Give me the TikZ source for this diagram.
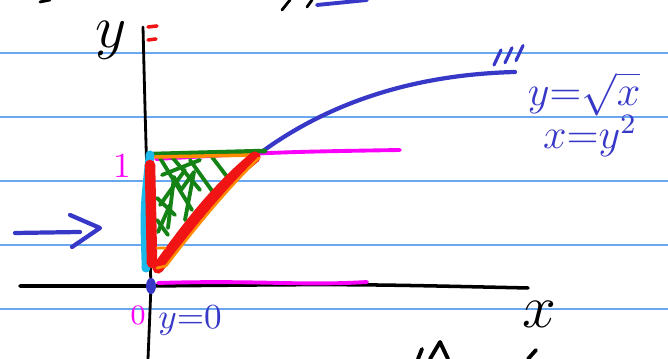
\documentclass[tikz,border=0pt]{standalone}
\usepackage{amsmath,amssymb}
\usepackage{xcolor}
\usepackage{tikz}
\usetikzlibrary{positioning}

\definecolor{ruleblue}{RGB}{105,168,240}
\definecolor{penblue}{RGB}{55,55,200}
\definecolor{penred}{RGB}{240,20,20}
\definecolor{pengreen}{RGB}{20,130,20}
\definecolor{penorange}{RGB}{255,140,0}
\definecolor{pencyan}{RGB}{30,185,235}
\definecolor{penmag}{RGB}{250,0,250}

\begin{document}
\begin{tikzpicture}[x=0.01cm,y=-0.01cm,line cap=round,line join=round,
    ink/.style={line width=0.8pt},
    marker/.style={line width=2.4pt},
    hatch/.style={pengreen,line width=1.1pt},
    hand/.style={inner sep=0pt}]
        \useasboundingbox[fill=white] (0,0) rectangle (668,359);
        % ruled paper
        \foreach \y in {53,117,181,245,309}{\draw[ruleblue,line width=0.45pt] (0,\y) -- (668,\y);}
        % fragments cut off at the edges
        \draw[ink] (40,2) -- (50,0);
        \draw[ink] (282,10) -- (290,0);
        \draw[ink] (307,7) -- (312,0);
        \draw[penblue,line width=1.1pt] (317,5) -- (367,0);
        \draw[ink,line width=1.1pt] (418,359) -- (422,349) (430,359) -- (440,342) -- (448,359);
        \draw[ink,line width=1.1pt] (528,359) -- (536,350);
        % axes
        \coordinate (O) at (151,286);
        \draw[ink] (143,27) .. controls (146,150) .. (O) -- (148,359);
        \draw[ink,line width=1pt] (20,286) -- (O) .. controls (350,284) .. (528,288);
        \draw[penred,line width=1pt] (148,27) -- (157,26) (148,40) -- (156,39);
        \node[hand,font=\LARGE] (ylab) at (111,40) {$y$};
        \node[hand,font=\LARGE] (xlab) at (539,314) {$x$};
        % magenta lines y=1 and y=0
        \draw[penmag,line width=1.1pt] (156,159) .. controls (280,152) .. (400,150);
        \draw[penmag,line width=1.1pt] (158,283) .. controls (260,280) and (300,286) .. (367,282);
        \node[hand,penmag] (one) at (122,166) {1};
        \node[hand,penmag,font=\footnotesize] (zero) at (138,315) {0};
        \node[hand,penblue] (yzero) at (190,321) {$y{=}0$};
        % sqrt curve
        \coordinate (A) at (263,151);
        \coordinate (B) at (515,72);
        \draw[penblue,line width=1.2pt] (A) .. controls (320,110) and (400,75) .. (B);
        \foreach \t in {0,11,22}{\draw[penblue,line width=0.9pt] (494+\t,65-\t/5) -- (501+\t,50-\t/5);}
        \node[hand,penblue,font=\large] (eq1) at (584,94) {$y{=}\sqrt{x}$};
        \node[hand,penblue,font=\large] (eq2) at (590,136) {$x{=}y^2$};
        % region
        \draw[hatch] (160,158) -- (192,210) (172,157) -- (200,190) (190,160) -- (215,195) (212,157) -- (228,178);
        \draw[hatch] (162,175) -- (200,160) (160,205) -- (185,170) (158,232) -- (170,205);
        \draw[hatch] (168,228) -- (174,177) -- (181,190) -- (194,172) -- (185,220);
        \draw[hatch] (157,198) -- (175,215) (157,220) -- (168,235);
        \draw[pengreen,line width=1.3pt] (154,154) -- (265,151);
        \draw[penorange,line width=1pt] (155,157) -- (256,155);
        \draw[pencyan,marker] (150,155) .. controls (144,210) .. (146,268);
        \fill[pencyan] (150,155) circle (4.5) (146,268) circle (4.5);
        \draw[penred,marker,line width=3pt] (150,165) -- (152,263);
        \draw[penred,marker,line width=3.2pt] (158,268) .. controls (185,230) and (215,190) .. (255,157);
        \draw[penred,line width=1.5pt] (162,262) .. controls (190,225) and (225,185) .. (251,160);
        \draw[penorange,line width=0.7pt] (166,266) .. controls (195,228) and (228,188) .. (259,158);
        \draw[penorange,line width=0.8pt] (157,248) -- (165,248) (157,268) -- (166,266);
        \fill[penblue] (O) ellipse (5 and 8);
        % arrow on the left
        \coordinate (s) at (15,233);
        \coordinate (e) at (80,232);
        \draw[penblue,line width=1.2pt] (s) -- (e);
        \draw[penblue,line width=1.2pt] (70,215) -- (100,228) -- (72,247);
    \end{tikzpicture}
\end{document}
